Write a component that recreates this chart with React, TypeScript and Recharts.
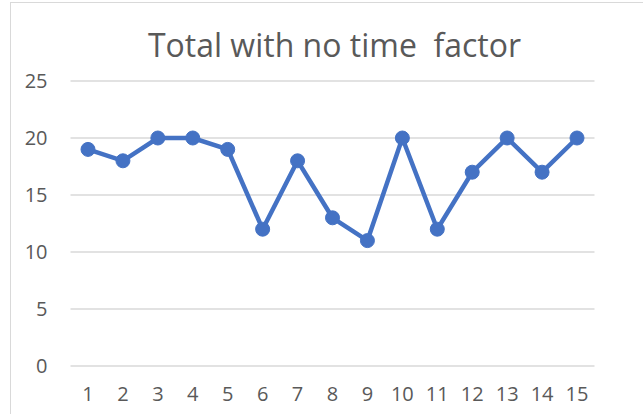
import React from 'react';
import { CartesianGrid, Line, LineChart, XAxis, YAxis } from 'recharts';

const categories = ['1', '2', '3', '4', '5', '6', '7', '8', '9', '10', '11', '12', '13', '14', '15'];
const totals = [19, 18, 20, 20, 19, 12, 18, 13, 11, 20, 12, 17, 20, 17, 20];
const yTicks = [0, 5, 10, 15, 20, 25];

const data = categories.map((c, i) => ({ label: c, value: totals[i] }));

const FONT = '"Open Sans", sans-serif';
const TEXT = '#595959';

export default function App() {
  return (
    <div style={{ position: 'fixed', left: 0, top: 0, width: 643, height: 414, overflow: 'hidden', background: '#fff', fontFamily: FONT }}>
      <div style={{ position: 'absolute', left: 10, top: 2, width: 700, height: 500, border: '1px solid #d9d9d9', boxSizing: 'border-box' }} />
      <div
        style={{
          position: 'absolute',
          left: 0,
          width: 669,
          top: 25,
          textAlign: 'center',
          fontSize: 32,
          lineHeight: '40px',
          color: TEXT,
          whiteSpace: 'pre',
        }}
      >
        Total with no time  factor
      </div>
      <div style={{ position: 'absolute', left: 0, top: 0 }}>
        <LineChart width={643} height={414} data={data} margin={{ top: 81, right: 48.5, left: 30.5, bottom: 18 }}>
          <CartesianGrid vertical={false} stroke="#d9d9d9" strokeWidth={1.5} />
          <XAxis
            dataKey="label"
            axisLine={false}
            tickLine={false}
            tickSize={0}
            tickMargin={21}
            height={30}
            padding={{ left: 17.5, right: 17.5 }}
            interval={0}
            tick={{ fill: TEXT, fontSize: 20, fontFamily: FONT }}
          />
          <YAxis
            domain={[0, 25]}
            ticks={yTicks}
            axisLine={false}
            tickLine={false}
            tickSize={0}
            tickMargin={23}
            width={40}
            tick={{ fill: TEXT, fontSize: 20, fontFamily: FONT }}
          />
          <Line
            type="linear"
            dataKey="value"
            stroke="#4472C4"
            strokeWidth={4.5}
            dot={{ r: 7, fill: '#4472C4', stroke: '#4472C4', strokeWidth: 1 }}
            activeDot={false}
            isAnimationActive={false}
          />
        </LineChart>
      </div>
    </div>
  );
}
